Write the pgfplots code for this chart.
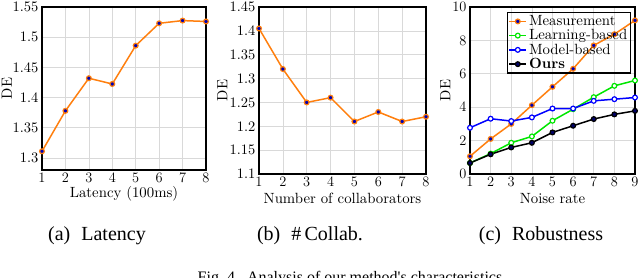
\documentclass[border=0pt]{standalone}
\usepackage{pgfplots}
\pgfplotsset{compat=1.18}
\usepackage{fontspec}
\setmainfont{lmroman10-regular}[Extension=.otf, BoldFont=lmroman10-bold, ItalicFont=lmroman10-italic]
\newfontfamily\timesfont{Liberation Serif}
\newcommand\ff{\fontsize{14.8}{17}\selectfont}
\newcommand\tf{\fontsize{14.5}{17}\selectfont}
\definecolor{myorange}{RGB}{255,127,14}
\definecolor{mygreen}{RGB}{0,230,0}
\definecolor{myblue}{RGB}{0,0,255}
\pgfplotsset{
  myaxis/.style={
    scale only axis,
    anchor=north west,
    axis line style={line width=1.4pt},
    grid=major,
    grid style={black!15, line width=0.6pt},
    major tick style={draw=none},
    tick label style={font=\tf},
    every axis plot/.append style={line width=1.5pt, mark=*, mark size=2.4pt},
  },
}
\begin{document}
\begin{tikzpicture}
% (a)
\begin{axis}[myaxis, at={(42pt,-7pt)}, width=164pt, height=163pt,
  xmin=1, xmax=8, ymin=1.28, ymax=1.55,
  xtick={1,...,8},
  ytick={1.3,1.35,1.4,1.45,1.5,1.55},
  yticklabels={1.3,1.35,1.4,1.45,1.5,1.55},
  xlabel={\ff Latency (100ms)}, ylabel={\ff DE},
  xlabel style={at={(axis description cs:0.5,-0.147)}, anchor=center},
  ylabel style={at={(axis description cs:-0.215,0.5)}, anchor=center},
]
\addplot[color=myorange, mark options={fill=blue!70!black, line width=1.2pt}] coordinates {
(1,1.311) (2,1.378) (3,1.432) (4,1.4225) (5,1.486) (6,1.523) (7,1.5275) (8,1.526)};
\end{axis}
% (b)
\begin{axis}[myaxis, at={(259pt,-7pt)}, width=167pt, height=167pt,
  xmin=1, xmax=8, ymin=1.1, ymax=1.45,
  xtick={1,...,8},
  ytick={1.1,1.15,1.2,1.25,1.3,1.35,1.4,1.45},
  yticklabels={1.1,1.15,1.2,1.25,1.3,1.35,1.4,1.45},
  xlabel={\ff Number of collaborators}, ylabel={\ff DE},
  xlabel style={at={(axis description cs:0.5,-0.144)}, anchor=center},
  ylabel style={at={(axis description cs:-0.22,0.5)}, anchor=center},
]
\addplot[color=myorange, mark options={fill=blue!70!black, line width=1.2pt}] coordinates {
(1,1.405) (2,1.32) (3,1.25) (4,1.26) (5,1.21) (6,1.23) (7,1.21) (8,1.22)};
\end{axis}
% (c)
\begin{axis}[myaxis, at={(470pt,-7pt)}, width=165pt, height=167pt,
  xmin=1, xmax=9, ymin=0, ymax=10,
  xtick={1,...,9},
  ytick={0,2,4,6,8,10},
  xlabel={\ff Noise rate}, ylabel={\ff DE},
  xlabel style={at={(axis description cs:0.5,-0.144)}, anchor=center},
  ylabel style={at={(axis description cs:-0.15,0.5)}, anchor=center},
  legend style={at={(0.975,0.97)}, anchor=north east, draw=black, fill=none, line width=1.2pt,
    inner sep=1pt, row sep=-1.5pt},
  legend cell align=left,
  legend image post style={line width=1.5pt},
]
\addplot[color=myorange, mark options={fill=blue!70!black, line width=1.2pt}] coordinates {
(1,1.06) (2,2.1) (3,3.0) (4,4.12) (5,5.22) (6,6.3) (7,7.7) (8,8.37) (9,9.2)};
\addlegendentry{\ff Measurement}
\addplot[color=mygreen, mark options={fill=white, line width=1.2pt}] coordinates {
(1,0.66) (2,1.22) (3,1.87) (4,2.25) (5,3.19) (6,3.88) (7,4.6) (8,5.28) (9,5.6)};
\addlegendentry{\ff Learning-based}
\addplot[color=myblue, mark options={fill=white, line width=1.2pt}] coordinates {
(1,2.77) (2,3.31) (3,3.17) (4,3.39) (5,3.92) (6,3.92) (7,4.38) (8,4.48) (9,4.58)};
\addlegendentry{\ff Model-based}
\addplot[color=black, mark options={fill=blue!40!black, line width=1.2pt}] coordinates {
(1,0.66) (2,1.18) (3,1.59) (4,1.87) (5,2.49) (6,2.89) (7,3.29) (8,3.57) (9,3.78)};
\addlegendentry{\ff\bfseries Ours}
\end{axis}
% captions
\node[font=\timesfont\fontsize{20}{24}\selectfont, anchor=base] at (97pt,-240pt) {(a)\hspace{11pt}Latency};
\node[font=\timesfont\fontsize{20}{24}\selectfont, anchor=base] at (310pt,-240pt) {(b)\hspace{11pt}\#\,Collab.};
\node[font=\timesfont\fontsize{20}{24}\selectfont, anchor=base] at (541pt,-240pt) {(c)\hspace{11pt}Robustness};
\node[font=\timesfont\fontsize{16}{19}\selectfont, anchor=base] at (350pt,-282pt) {Fig.~4.\hspace{8pt}Analysis of our method's characteristics};
\pgfresetboundingbox
\path[use as bounding box] (0pt,0pt) rectangle (640pt,-278pt);
\end{tikzpicture}
\end{document}
